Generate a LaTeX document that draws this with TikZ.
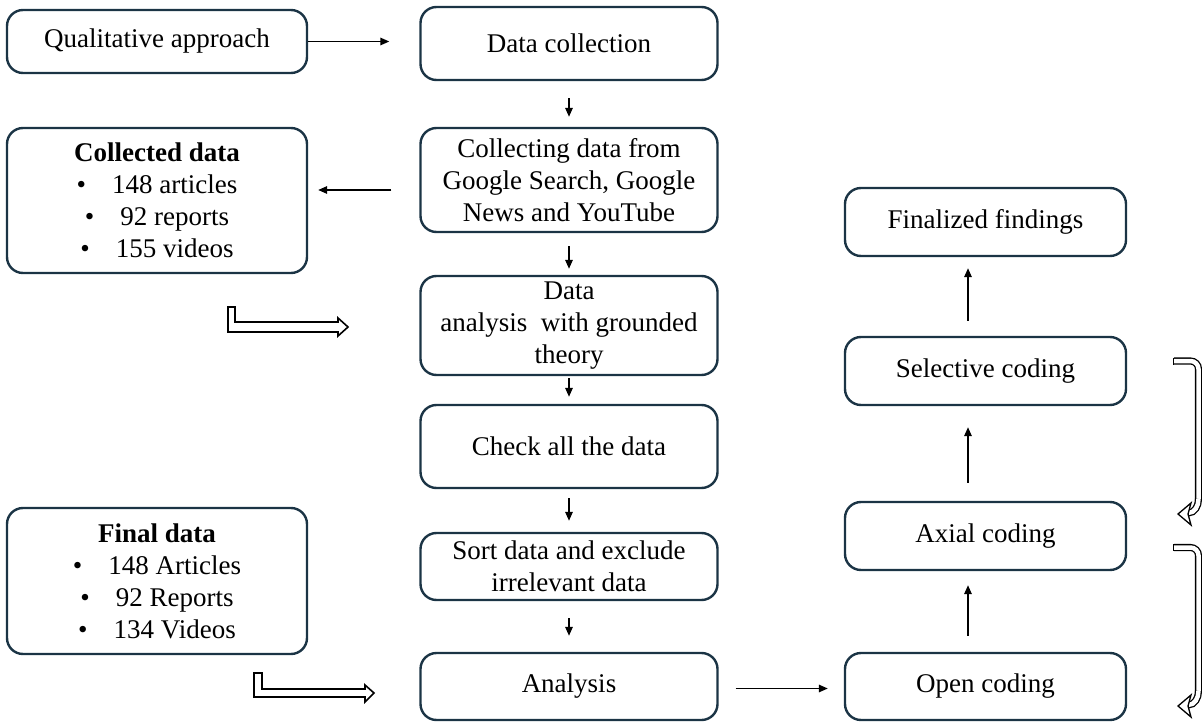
\documentclass[tikz,border=0pt]{standalone}
\usepackage{fontspec}
\setmainfont{Liberation Serif}
\usetikzlibrary{arrows.meta,calc}
\definecolor{boxc}{HTML}{1B3445}
\begin{document}
\begin{tikzpicture}[x=1pt,y=-1pt,
  box/.style={draw=boxc, line width=2.4pt, rounded corners=16pt, align=center,
    inner sep=0pt, font=\fontsize{27}{32}\selectfont, text=black},
  lbox/.style={box, minimum width=300pt},
  cbox/.style={box, minimum width=297pt},
  rbox/.style={box, minimum width=281pt},
  arr/.style={line width=1.5pt, -{Triangle[length=9pt,width=7.5pt]}},
  hollow/.style={draw=black, line width=1.6pt, fill=white, line join=miter},
  hook/.style={line width=1.3pt, double=white, double distance=4.5pt}]
\useasboundingbox (0,0) rectangle (1202,722);

% left column
\node[lbox, minimum height=63pt] (qa) at (157,41.5) {Qualitative approach};
\node[lbox, minimum height=145pt] (coll) at (157,200.5) {\textbf{Collected data}\\
  \textbullet\hspace{26pt}148 articles\\
  \textbullet\hspace{26pt}92 reports\\
  \textbullet\hspace{26pt}155 videos};
\node[lbox, minimum height=146pt] (fin) at (157,581) {\textbf{Final data}\\
  \textbullet\hspace{26pt}148 Articles\\
  \textbullet\hspace{26pt}92 Reports\\
  \textbullet\hspace{26pt}134 Videos};

% centre column
\node[cbox, minimum height=73pt] (dc) at (569,43.5) {Data collection};
\node[cbox, minimum height=104pt] (cd) at (569,180) {Collecting data from\\Google Search, Google\\News and YouTube};
\node[cbox, minimum height=99pt] (da) at (569,325.5) {Data\\analysis\hspace{0.5em}with grounded\\theory};
\node[cbox, minimum height=83pt] (chk) at (569,446.5) {Check all the data};
\node[cbox, minimum height=67pt] (sort) at (569,566.5) {Sort data and exclude\\irrelevant data};
\node[cbox, minimum height=67pt] (an) at (569,686.5) {Analysis};

% right column
\node[rbox, minimum height=68pt] (ff) at (985.5,222) {Finalized findings};
\node[rbox, minimum height=68pt] (sc) at (985.5,371) {Selective coding};
\node[rbox, minimum height=68pt] (ax) at (985.5,536) {Axial coding};
\node[rbox, minimum height=67pt] (oc) at (985.5,686.5) {Open coding};

% connectors
\draw[arr, shorten >=30pt] (qa.east) -- (qa.east -| dc.west);
\draw[arr, shorten <=17pt, shorten >=10pt] (dc.south) -- (cd.north);
\draw[arr, shorten <=28pt, shorten >=10pt] ([yshift=-10pt]cd.west) -- ([yshift=-10pt]cd.west -| coll.east);
\draw[arr, shorten <=13pt, shorten >=6pt] (cd.south) -- (da.north);
\draw[arr, shorten <=2pt, shorten >=7pt] (da.south) -- (chk.north);
\draw[arr, shorten <=9pt, shorten >=11pt] (chk.south) -- (sort.north);
\draw[arr, shorten <=17pt, shorten >=16pt] (sort.south) -- (an.north);
\draw[arr, shorten <=17pt, shorten >=16pt] ([yshift=-2pt]an.east) -- ([yshift=-2pt]an.east -| oc.west);
\draw[arr, shorten <=16pt, shorten >=14pt] ([xshift=-17.5pt]oc.north) -- ([xshift=-17.5pt]ax.south);
\draw[arr, shorten <=18pt, shorten >=21pt] ([xshift=-17.5pt]ax.north) -- ([xshift=-17.5pt]sc.south);
\draw[arr, shorten <=15pt, shorten >=11pt] ([xshift=-17.5pt]sc.north) -- ([xshift=-17.5pt]ff.south);

% hollow L arrows
\draw[hollow] (228,307) -- (235,307) -- (235,322) -- (338,322) -- (338,318) -- (348,327)
  -- (338,336) -- (338,332) -- (228,332) -- cycle;
\draw[hollow] (254,673) -- (262,673) -- (262,689) -- (365,689) -- (365,685) -- (374,693)
  -- (365,702) -- (365,697) -- (254,697) -- cycle;

% right hooks
\draw[hook, rounded corners=8pt] (1174,361) -- (1198.5,361) -- (1198.5,500);
\draw[hook] (1198.5,499) to[out=-90,in=0] (1188,513);
\draw[line width=1.3pt] (1173.5,357.5) -- (1173.5,364.5);
\draw[hollow, line width=1.3pt] (1191,503) -- (1178,514) -- (1191,525) -- (1188,514) -- cycle;

\draw[hook, rounded corners=8pt] (1174,547.5) -- (1198.5,547.5) -- (1198.5,692);
\draw[hook] (1198.5,691) to[out=-90,in=0] (1188,705);
\draw[line width=1.3pt] (1173.5,544) -- (1173.5,551);
\draw[hollow, line width=1.3pt] (1191,695) -- (1178,706) -- (1191,717) -- (1188,706) -- cycle;
\end{tikzpicture}
\end{document}
